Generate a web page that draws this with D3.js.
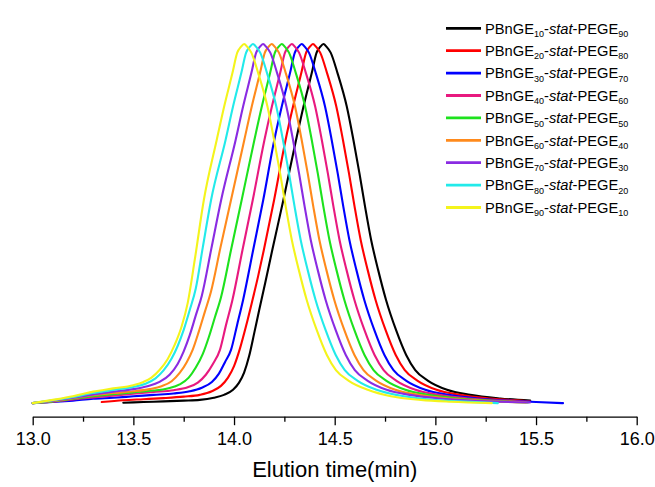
<!DOCTYPE html>
<html>
<head>
<meta charset="utf-8">
<script src="https://cdn.jsdelivr.net/npm/d3@7"></script>
<style>
  html, body { margin: 0; padding: 0; background: #ffffff; }
  svg { display: block; font-family: "Liberation Sans", Arial, sans-serif; }
</style>
</head>
<body>
<svg id="chart" width="655" height="487"></svg>
<script>
// GPC traces of PBnGE-stat-PEGE copolymers: [elution time (min), normalized intensity (%)]
const bngeUnits = [10, 20, 30, 40, 50, 60, 70, 80, 90];
const pegeUnits = [90, 80, 70, 60, 50, 40, 30, 20, 10];
const seriesColors = ["#000000", "#ff0000", "#0000ff", "#e8197f", "#1de21d", "#ff8a1c", "#8a2be2", "#22eaea", "#f4f41c"];

const trace10 = [
  [13.45, 0.2], [13.55, 0.4], [13.65, 0.6], [13.75, 0.8], [13.83, 1.0], [13.90, 1.6], [13.95, 2.4],
  [13.995, 3.8], [14.025, 5.8], [14.05, 8.6], [14.075, 13.2], [14.10, 19.5], [14.125, 26.0],
  [14.155, 33.6], [14.19, 42.7], [14.245, 56.6], [14.308, 73.3], [14.345, 82.6], [14.386, 91.9],
  [14.410, 97.6], [14.428, 99.2], [14.444, 100], [14.460, 99.2], [14.480, 97.6], [14.514, 91.9],
  [14.560, 82.6], [14.593, 73.3], [14.623, 64.0], [14.651, 54.7], [14.681, 45.5], [14.716, 37.1],
  [14.755, 28.8], [14.805, 20.4], [14.855, 13.5], [14.900, 9.3], [14.964, 6.3], [15.058, 3.8],
  [15.173, 2.4], [15.322, 1.4], [15.471, 0.8]
];
const trace20 = [
  [13.343, 0.4], [13.45, 0.9], [13.55, 1.2], [13.65, 1.5], [13.75, 1.9], [13.83, 2.4], [13.89, 3.4],
  [13.935, 4.9], [13.97, 7.2], [14.0, 10.4], [14.03, 15.4], [14.06, 21.6], [14.09, 28.4],
  [14.12, 35.5], [14.148, 42.7], [14.199, 56.6], [14.256, 73.3], [14.293, 82.6], [14.334, 91.9],
  [14.358, 97.6], [14.376, 99.2], [14.392, 100], [14.408, 99.2], [14.428, 97.6], [14.462, 91.9],
  [14.508, 82.6], [14.541, 73.3], [14.571, 64.0], [14.599, 54.7], [14.629, 45.5], [14.664, 37.1],
  [14.703, 28.8], [14.753, 20.4], [14.803, 13.5], [14.848, 9.3], [14.912, 6.3], [15.006, 3.8],
  [15.121, 2.4], [15.270, 1.4], [15.419, 0.8], [15.47, 0.6]
];
const trace30 = [
  [13.0, 0.1], [13.1, 0.4], [13.2, 0.8], [13.3, 1.3], [13.4, 1.6], [13.5, 2.0], [13.6, 2.4], [13.7, 2.8],
  [13.78, 3.4], [13.84, 4.4], [13.89, 6.0], [13.925, 8.3], [13.955, 11.5], [13.985, 14.9],
  [14.015, 21.8], [14.045, 28.8], [14.095, 42.7], [14.145, 56.6], [14.200, 73.3], [14.237, 82.6],
  [14.278, 91.9], [14.302, 97.6], [14.320, 99.2], [14.336, 100], [14.352, 99.2], [14.372, 97.6],
  [14.406, 91.9], [14.452, 82.6], [14.485, 73.3], [14.515, 64.0], [14.543, 54.7], [14.573, 45.5],
  [14.608, 37.1], [14.647, 28.8], [14.697, 20.4], [14.747, 13.5], [14.792, 9.3], [14.856, 6.3],
  [14.950, 3.8], [15.065, 2.4], [15.214, 1.4], [15.363, 0.8], [15.50, 0.4], [15.634, 0.1]
];
const trace40 = [
  [13.0, 0.1], [13.1, 0.5], [13.2, 1.1], [13.3, 1.7], [13.4, 2.2], [13.5, 2.7], [13.6, 3.2], [13.7, 3.7],
  [13.77, 4.5], [13.82, 5.8], [13.86, 8.0], [13.895, 11.0], [13.93, 14.9], [13.96, 21.8],
  [13.992, 28.8], [14.042, 42.7], [14.093, 56.6], [14.151, 73.3], [14.188, 82.6], [14.229, 91.9],
  [14.253, 97.6], [14.271, 99.2], [14.287, 100], [14.303, 99.2], [14.323, 97.6], [14.357, 91.9],
  [14.403, 82.6], [14.436, 73.3], [14.466, 64.0], [14.494, 54.7], [14.524, 45.5], [14.559, 37.1],
  [14.598, 28.8], [14.648, 20.4], [14.698, 13.5], [14.743, 9.3], [14.807, 6.3], [14.901, 3.8],
  [15.016, 2.4], [15.165, 1.4], [15.314, 0.8], [15.44, 0.5]
];
const trace50 = [
  [13.0, 0.1], [13.1, 0.6], [13.2, 1.3], [13.3, 2.0], [13.4, 2.6], [13.5, 3.1], [13.6, 3.6], [13.67, 4.2],
  [13.73, 5.3], [13.775, 7.2], [13.81, 10.0], [13.845, 13.8], [13.875, 18.5], [13.905, 24.0],
  [13.935, 29.5], [13.985, 42.7], [14.038, 56.6], [14.101, 73.3], [14.138, 82.6], [14.179, 91.9],
  [14.203, 97.6], [14.221, 99.2], [14.237, 100], [14.253, 99.2], [14.273, 97.6], [14.307, 91.9],
  [14.353, 82.6], [14.386, 73.3], [14.416, 64.0], [14.444, 54.7], [14.474, 45.5], [14.509, 37.1],
  [14.548, 28.8], [14.598, 20.4], [14.648, 13.5], [14.693, 9.3], [14.757, 6.3], [14.851, 3.8],
  [14.966, 2.4], [15.115, 1.4], [15.264, 0.8], [15.46, 0.3]
];
const trace60 = [
  [13.0, 0.1], [13.1, 0.7], [13.2, 1.5], [13.3, 2.3], [13.4, 2.9], [13.5, 3.4], [13.58, 4.0], [13.64, 4.8],
  [13.69, 6.2], [13.73, 8.5], [13.765, 11.5], [13.795, 15.0], [13.825, 20.0], [13.855, 25.5],
  [13.885, 31.0], [13.933, 43.5], [13.985, 56.6], [14.051, 73.3], [14.088, 82.6], [14.129, 91.9],
  [14.153, 97.6], [14.171, 99.2], [14.187, 100], [14.203, 99.2], [14.223, 97.6], [14.257, 91.9],
  [14.303, 82.6], [14.336, 73.3], [14.366, 64.0], [14.394, 54.7], [14.424, 45.5], [14.459, 37.1],
  [14.498, 28.8], [14.548, 20.4], [14.598, 13.5], [14.643, 9.3], [14.707, 6.3], [14.801, 3.8],
  [14.916, 2.4], [15.065, 1.4], [15.214, 0.8], [15.45, 0.3]
];
const trace70 = [
  [13.0, 0.1], [13.1, 0.8], [13.2, 1.6], [13.3, 2.5], [13.4, 3.3], [13.5, 4.0], [13.57, 4.8], [13.63, 6.0],
  [13.68, 8.0], [13.72, 11.0], [13.75, 14.5], [13.78, 19.0], [13.81, 24.5], [13.84, 30.0],
  [13.887, 43.0], [13.936, 56.6], [14.008, 73.3], [14.045, 82.6], [14.086, 91.9], [14.110, 97.6],
  [14.128, 99.2], [14.144, 100], [14.160, 99.2], [14.180, 97.6], [14.214, 91.9], [14.260, 82.6],
  [14.293, 73.3], [14.323, 64.0], [14.351, 54.7], [14.381, 45.5], [14.416, 37.1], [14.455, 28.8],
  [14.505, 20.4], [14.555, 13.5], [14.600, 9.3], [14.664, 6.3], [14.758, 3.8], [14.873, 2.4],
  [15.022, 1.4], [15.171, 0.8], [15.47, 0.3]
];
const trace80 = [
  [13.0, 0.1], [13.1, 0.9], [13.2, 1.8], [13.3, 2.9], [13.4, 3.8], [13.5, 4.6], [13.56, 5.5], [13.61, 7.0],
  [13.65, 9.2], [13.69, 12.5], [13.72, 16.0], [13.75, 20.5], [13.78, 26.0], [13.81, 32.0],
  [13.845, 43.5], [13.886, 56.6], [13.958, 73.3], [13.995, 82.6], [14.036, 91.9], [14.060, 97.6],
  [14.078, 99.2], [14.094, 100], [14.110, 99.2], [14.130, 97.6], [14.164, 91.9], [14.210, 82.6],
  [14.243, 73.3], [14.273, 64.0], [14.301, 54.7], [14.331, 45.5], [14.366, 37.1], [14.405, 28.8],
  [14.455, 20.4], [14.505, 13.5], [14.550, 9.3], [14.614, 6.3], [14.708, 3.8], [14.823, 2.2],
  [14.972, 1.1], [15.121, 0.6], [15.31, 0.1]
];
const trace90 = [
  [13.0, 0.1], [13.1, 1.0], [13.2, 2.0], [13.3, 3.3], [13.4, 4.2], [13.5, 5.1], [13.55, 6.0], [13.59, 7.2],
  [13.63, 9.3], [13.67, 12.3], [13.705, 16.3], [13.74, 21.5], [13.77, 28.0], [13.805, 40.0],
  [13.85, 56.6], [13.914, 73.3], [13.951, 82.6], [13.992, 91.9], [14.016, 97.6], [14.034, 99.2],
  [14.05, 100], [14.066, 99.2], [14.086, 97.6], [14.120, 91.9], [14.166, 82.6], [14.199, 73.3],
  [14.229, 64.0], [14.257, 54.7], [14.287, 45.5], [14.322, 37.1], [14.361, 28.8], [14.411, 20.4],
  [14.461, 13.5], [14.506, 9.3], [14.570, 6.3], [14.664, 3.8], [14.779, 2.0], [14.928, 1.0],
  [15.077, 0.5], [15.28, 0.1]
];

const traces = [trace10, trace20, trace30, trace40, trace50, trace60, trace70, trace80, trace90];
const xTicks = [13.0, 13.5, 14.0, 14.5, 15.0, 15.5, 16.0];
const xMinorTicks = [13.25, 13.75, 14.25, 14.75, 15.25, 15.75];

const svg = d3.select("#chart");

const x = d3.scaleLinear().domain([13, 16]).range([32.7, 636.7]);
const y = d3.scaleLinear().domain([0, 100]).range([403.5, 44]);
const axisY = 416.7;

// chromatogram traces
const line = d3.line()
  .x(d => x(d[0]))
  .y(d => y(d[1]))
  .curve(d3.curveMonotoneX);

svg.append("g")
  .selectAll("path")
  .data(traces)
  .join("path")
  .attr("d", line)
  .attr("fill", "none")
  .attr("stroke", (d, i) => seriesColors[i])
  .attr("stroke-width", 2.1)
  .attr("stroke-linejoin", "round")
  .attr("stroke-linecap", "round");

// bottom axis with minor ticks
const gx = svg.append("g").attr("transform", `translate(0,${axisY})`);
gx.call(d3.axisBottom(x).tickValues(xMinorTicks).tickSize(5).tickFormat(""))
  .call(g => g.select(".domain").remove());
gx.selectAll(".tick line").attr("stroke", "#000").attr("stroke-width", 1.3);

const gxMajor = svg.append("g").attr("transform", `translate(0,${axisY})`);
gxMajor.call(d3.axisBottom(x).tickValues(xTicks).tickSize(8.5).tickSizeOuter(0).tickPadding(7.5)
  .tickFormat(d3.format(".1f")));
gxMajor.select(".domain").attr("stroke", "#000").attr("stroke-width", 1.3);
gxMajor.selectAll(".tick line").attr("stroke", "#000").attr("stroke-width", 1.3);
gxMajor.selectAll(".tick text")
  .attr("fill", "#000")
  .style("font-size", "18px")
  .style("font-family", "'Liberation Sans', Arial, sans-serif");

svg.append("text")
  .attr("x", (x(13) + x(16)) / 2)
  .attr("y", 477)
  .attr("text-anchor", "middle")
  .style("font-size", "22px")
  .attr("fill", "#000")
  .text("Elution time(min)");

// legend
const legend = svg.append("g");
const rowY = i => 28.3 + i * 22.4;
const rows = legend.selectAll("g")
  .data(bngeUnits)
  .join("g")
  .attr("transform", (d, i) => `translate(0,${rowY(i)})`);

rows.append("line")
  .attr("x1", 446).attr("x2", 481)
  .attr("y1", 0).attr("y2", 0)
  .attr("stroke", (d, i) => seriesColors[i])
  .attr("stroke-width", 2.8);

const label = rows.append("text")
  .attr("x", 485)
  .attr("y", 5.3)
  .attr("fill", "#000")
  .style("font-size", "14.7px");
label.append("tspan").text("PBnGE");
label.append("tspan").attr("dy", 3.5).style("font-size", "9px").text(d => d);
label.append("tspan").attr("dy", -3.5).text("-");
label.append("tspan").style("font-style", "italic").text("stat");
label.append("tspan").text("-PEGE");
label.append("tspan").attr("dy", 3.5).style("font-size", "9px").text((d, i) => pegeUnits[i]);
</script>
</body>
</html>
